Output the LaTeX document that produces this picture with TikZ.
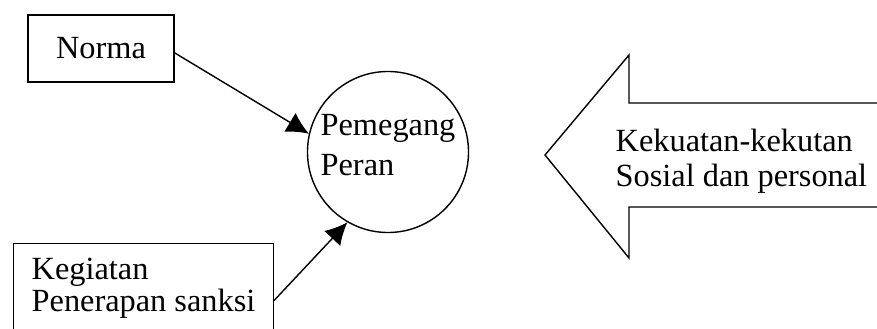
\documentclass[tikz,border=0pt]{standalone}
\usepackage{fontspec}
\setmainfont{Liberation Serif}
\usetikzlibrary{arrows.meta}

\begin{document}
\begin{tikzpicture}[x=0.025cm, y=-0.025cm, line width=1pt,
  box/.style={draw, align=left, inner xsep=0.45cm},
  role/.style={draw, circle, minimum size=4.025cm, inner sep=0pt, align=left},
  push/.style={-{Latex[length=0.55cm, width=0.55cm]}}]

\def \tail {877}  % shaft of the big arrow runs off the page
\fontsize{23}{22.5}\selectfont

\useasboundingbox (0,0) rectangle (877,329);

\node[box, minimum width=3.65cm, minimum height=1.675cm] (norma) at (101,48.5) {Norma};
\node[box, anchor=north west, minimum height=2.22cm] (sanksi) at (13,243)
  {Kegiatan\\Penerapan sanksi};
\node[role, text depth=0.375cm, font=\fontsize{23}{28.5}\selectfont] (peran) at (388,152)
  {Pemegang\\Peran};

\draw[push] ([yshift=-0.11cm]norma.east) -- (peran.167);
\draw[push] ([yshift=-0.31cm]sanksi.east) -- (peran.240);

% big arrow pointing left
\coordinate (tip) at (545,155);
\draw (\tail,103) -- (629,103) -- (629,55) -- (tip) -- (629,258) -- (629,207) -- (\tail,207);
\node[anchor=west, inner sep=0pt, align=left, font=\fontsize{23}{24.5}\selectfont] (forces)
  at (615,161) {Kekuatan-kekutan\\Sosial dan personal};

\end{tikzpicture}
\end{document}
